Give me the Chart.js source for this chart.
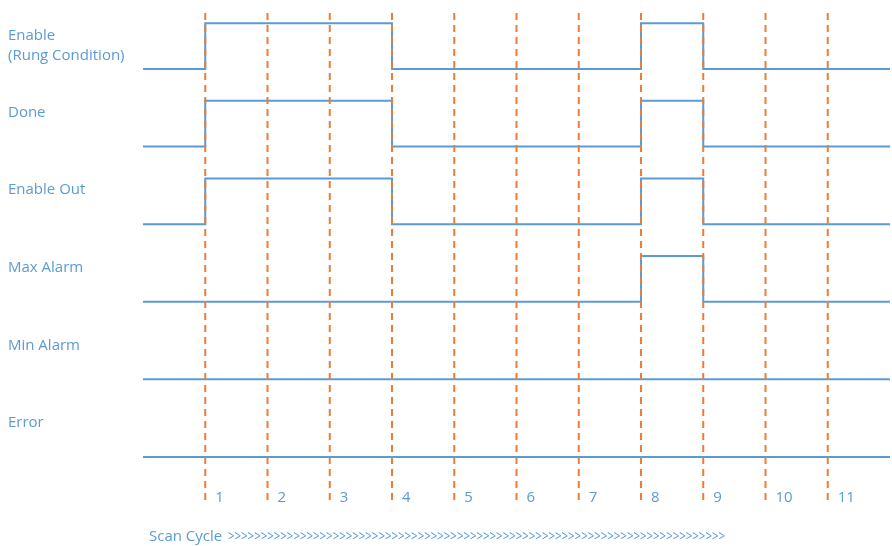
<!DOCTYPE html>
<html>
<head>
<meta charset="utf-8">
<script src="https://cdn.jsdelivr.net/npm/chart.js@4.4.1/dist/chart.umd.min.js"></script>
<style>
  html, body { margin: 0; padding: 0; background: #fff; }
  #wrap { width: 892px; height: 546px; position: relative; }
</style>
</head>
<body>
<div id="wrap"><canvas id="timing"></canvas></div>
<script>
// Timing data: one value per scan cycle step (0..12), 1 = high, 0 = low
const cycles = [0, 1, 2, 3, 4, 5, 6, 7, 8, 9, 10, 11, 12];
const signalNames = ['Enable', 'Done', 'Enable Out', 'Max Alarm', 'Min Alarm', 'Error'];
const enableVals = [0, 1, 1, 1, 0, 0, 0, 0, 1, 0, 0, 0, 0];
const doneVals = [0, 1, 1, 1, 0, 0, 0, 0, 1, 0, 0, 0, 0];
const enableOutVals = [0, 1, 1, 1, 0, 0, 0, 0, 1, 0, 0, 0, 0];
const maxAlarmVals = [0, 0, 0, 0, 0, 0, 0, 0, 1, 0, 0, 0, 0];
const minAlarmVals = [0, 0, 0, 0, 0, 0, 0, 0, 0, 0, 0, 0, 0];
const errorVals = [0, 0, 0, 0, 0, 0, 0, 0, 0, 0, 0, 0, 0];
const scanTicks = ['1', '2', '3', '4', '5', '6', '7', '8', '9', '10', '11'];

const allSignals = [enableVals, doneVals, enableOutVals, maxAlarmVals, minAlarmVals, errorVals];
const HIGH = 0.59;   // height of a pulse relative to row spacing
const Y_MIN = -0.555;
const Y_MAX = 5.76;

const blue = '#5b9bd5';
const orange = '#ed7d31';

const datasets = [];

// vertical dashed lines at every scan cycle
scanTicks.forEach((t, i) => {
  datasets.push({
    label: 'cycle ' + t,
    data: [{ x: i + 1, y: Y_MIN }, { x: i + 1, y: Y_MAX }],
    borderColor: orange,
    borderWidth: 2,
    borderDash: [7, 5],
    pointRadius: 0
  });
});

// signal traces, top row first
allSignals.forEach((vals, r) => {
  const base = allSignals.length - 1 - r;
  datasets.push({
    label: signalNames[r],
    data: vals.map((v, i) => ({ x: cycles[i], y: base + v * HIGH })),
    borderColor: blue,
    borderWidth: 2,
    stepped: true,
    pointRadius: 0
  });
});

// text labels drawn from the scales
const labelPlugin = {
  id: 'labels',
  afterDatasetsDraw(chart) {
    const ctx = chart.ctx;
    const xs = chart.scales.x;
    const ys = chart.scales.y;
    ctx.save();
    ctx.fillStyle = blue;
    ctx.font = '15px "Open Sans"';
    ctx.textBaseline = 'middle';
    ctx.textAlign = 'left';
    // row names
    allSignals.forEach((vals, r) => {
      const base = allSignals.length - 1 - r;
      const yLow = ys.getPixelForValue(base);
      if (r === 0) {
        ctx.fillText(signalNames[r], 8, yLow - 33);
        ctx.fillText('(Rung Condition)', 8, yLow - 13);
      } else {
        ctx.fillText(signalNames[r], 8, yLow - 34);
      }
    });
    // cycle numbers
    scanTicks.forEach((t, i) => {
      ctx.fillText(t, xs.getPixelForValue(i + 1) + 10, 498);
    });
    // scan cycle caption
    ctx.fillText('Scan Cycle', 149, 537);
    ctx.font = '14px "Open Sans"';
    ctx.fillText('>'.repeat(76), 228, 537, 497);
    ctx.restore();
  }
};

new Chart(document.getElementById('timing'), {
  type: 'line',
  data: { datasets: datasets },
  options: {
    responsive: true,
    maintainAspectRatio: false,
    animation: false,
    layout: { padding: { left: 143, right: 2, top: 10, bottom: 46 } },
    scales: {
      x: { type: 'linear', min: 0, max: 12, display: false },
      y: { type: 'linear', min: Y_MIN, max: Y_MAX, display: false }
    },
    plugins: {
      legend: { display: false },
      tooltip: { enabled: false }
    }
  },
  plugins: [labelPlugin]
});
</script>
</body>
</html>
